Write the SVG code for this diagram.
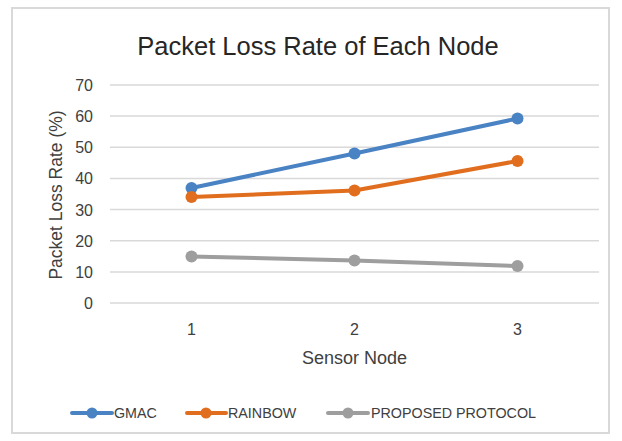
<svg xmlns="http://www.w3.org/2000/svg" width="622" height="441" viewBox="0 0 622 441">
<style>
text{font-family:"Liberation Sans",Arial,sans-serif;fill:#404040}
.t{font-size:25.5px;fill:#262626}
.ax{font-size:16px}
.lg{font-size:14.3px}
.grid line{stroke:#d9d9d9;stroke-width:1.5}
.s{fill:none;stroke-width:4;stroke-linejoin:round;stroke-linecap:round}
.g{stroke:#4a83c4}.gf{fill:#4a83c4}
.r{stroke:#e06e1e}.rf{fill:#e06e1e}
.p{stroke:#9e9e9e}.pf{fill:#9e9e9e}
</style>
<rect x="0" y="0" width="622" height="441" fill="#ffffff"/>
<rect x="12" y="8" width="597" height="425" fill="#ffffff" stroke="#d9d9d9" stroke-width="2"/>
<text class="t" x="318" y="55" text-anchor="middle">Packet Loss Rate of Each Node</text>
<g class="grid">
<line x1="110" y1="85" x2="599" y2="85"/>
<line x1="110" y1="116.1" x2="599" y2="116.1"/>
<line x1="110" y1="147.3" x2="599" y2="147.3"/>
<line x1="110" y1="178.4" x2="599" y2="178.4"/>
<line x1="110" y1="209.6" x2="599" y2="209.6"/>
<line x1="110" y1="240.7" x2="599" y2="240.7"/>
<line x1="110" y1="271.9" x2="599" y2="271.9"/>
<line x1="110" y1="303" x2="599" y2="303"/>
</g>
<g class="ax" text-anchor="end">
<text x="93" y="91">70</text>
<text x="93" y="122">60</text>
<text x="93" y="153">50</text>
<text x="93" y="184">40</text>
<text x="93" y="215.5">30</text>
<text x="93" y="246.5">20</text>
<text x="93" y="278">10</text>
<text x="93" y="309">0</text>
</g>
<g class="ax" text-anchor="middle">
<text x="191.5" y="335">1</text>
<text x="354.5" y="335">2</text>
<text x="517.5" y="335">3</text>
<text x="354.5" y="364" style="font-size:18px">Sensor Node</text>
<text transform="translate(61.5,195) rotate(-90)" style="font-size:17.5px">Packet Loss Rate (%)</text>
</g>
<g id="connectors">
<polyline class="s g" points="191.5,188 354.5,153.5 517.5,118.5"/>
<polyline class="s r" points="191.5,197 354.5,190.5 517.5,161"/>
<polyline class="s p" points="191.5,256.5 354.5,260.5 517.5,266"/>
</g>
<g id="gmac">
<circle class="gf" cx="191.5" cy="188" r="6"/>
<circle class="gf" cx="354.5" cy="153.5" r="6"/>
<circle class="gf" cx="517.5" cy="118.5" r="6"/>
</g>
<g id="rainbow">
<circle class="rf" cx="191.5" cy="197" r="6"/>
<circle class="rf" cx="354.5" cy="190.5" r="6"/>
<circle class="rf" cx="517.5" cy="161" r="6"/>
</g>
<g id="proposed">
<circle class="pf" cx="191.5" cy="256.5" r="6"/>
<circle class="pf" cx="354.5" cy="260.5" r="6"/>
<circle class="pf" cx="517.5" cy="266" r="6"/>
</g>
<g id="legend" class="lg">
<line class="s g" x1="72" y1="413" x2="112" y2="413"/>
<circle class="gf" cx="92" cy="413" r="5.5"/>
<text x="114" y="418">GMAC</text>
<line class="s r" x1="187" y1="413" x2="226" y2="413"/>
<circle class="rf" cx="206" cy="413" r="5.5"/>
<text x="228" y="418">RAINBOW</text>
<line class="s p" x1="328" y1="413" x2="368" y2="413"/>
<circle class="pf" cx="348" cy="413" r="5.5"/>
<text x="371" y="418">PROPOSED PROTOCOL</text>
</g>
</svg>
